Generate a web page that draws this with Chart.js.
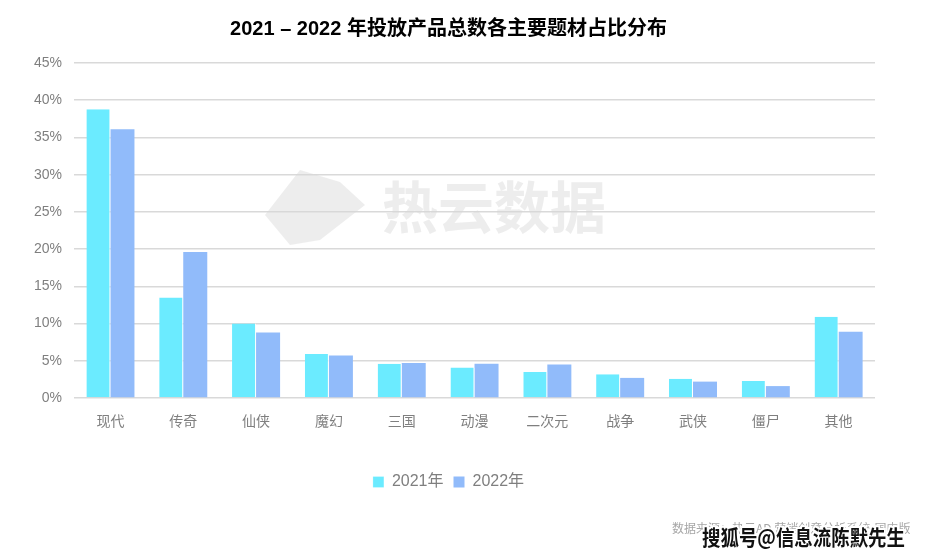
<!DOCTYPE html>
<html>
<head>
<meta charset="utf-8">
<script src="https://cdn.jsdelivr.net/npm/chart.js@4.4.0/dist/chart.umd.min.js"></script>
<style>
  html, body { margin: 0; padding: 0; background: #fff; }
  #wrap { width: 925px; height: 556px; position: relative; }
</style>
</head>
<body>
<div id="wrap"><canvas id="chart"></canvas></div>
<script>
const categories = ["现代", "传奇", "仙侠", "魔幻", "三国", "动漫", "二次元", "战争", "武侠", "僵尸", "其他"];
const share2021 = [38.8, 13.5, 10.0, 5.9, 4.6, 4.1, 3.5, 3.2, 2.6, 2.3, 10.9];
const share2022 = [36.1, 19.6, 8.8, 5.7, 4.7, 4.6, 4.5, 2.7, 2.2, 1.6, 8.9];
const yTicks = [0, 5, 10, 15, 20, 25, 30, 35, 40, 45];

const fontFamily = '"Liberation Sans", "Noto Sans CJK SC", sans-serif';

// watermark + source text
const extras = {
  id: "extras",
  beforeDatasetsDraw(chart) {
    const ctx = chart.ctx;
    ctx.save();
    ctx.fillStyle = "rgba(215,215,215,0.45)";
    ctx.beginPath();
    ctx.moveTo(300, 170);
    ctx.lineTo(340, 182);
    ctx.lineTo(365, 205);
    ctx.lineTo(320, 240);
    ctx.lineTo(290, 245);
    ctx.lineTo(265, 215);
    ctx.closePath();
    ctx.fill();
    ctx.font = 'bold 56px "Noto Sans CJK SC", sans-serif';
    ctx.textBaseline = "middle";
    ctx.fillText("热云数据", 382, 207);
    ctx.restore();
  },
  afterDraw(chart) {
    const ctx = chart.ctx;
    ctx.save();
    ctx.font = '12px "Noto Sans CJK SC", sans-serif';
    ctx.fillStyle = "#a6a6a6";
    ctx.textBaseline = "middle";
    ctx.fillText("数据来源：热云AD 营销创意分析系统-国内版", 672, 528);
    const mark = "搜狐号@信息流陈默先生";
    ctx.font = 'bold 21px "Noto Sans CJK SC", sans-serif';
    const w = ctx.measureText(mark).width;
    ctx.translate(702, 537);
    ctx.scale(203 / w, 1);
    ctx.lineWidth = 4;
    ctx.strokeStyle = "#fff";
    ctx.strokeText(mark, 0, 0);
    ctx.fillStyle = "#111";
    ctx.fillText(mark, 0, 0);
    ctx.restore();
  }
};

new Chart(document.getElementById("chart"), {
  type: "bar",
  data: {
    labels: categories,
    datasets: [
      {
        label: "2021年",
        data: share2021,
        backgroundColor: "#6BEBFF",
        borderColor: "#ffffff",
        borderWidth: { right: 1 },
        categoryPercentage: 0.66,
        barPercentage: 1.0
      },
      {
        label: "2022年",
        data: share2022,
        backgroundColor: "#91BBFA",
        categoryPercentage: 0.66,
        barPercentage: 1.0
      }
    ]
  },
  plugins: [extras],
  options: {
    responsive: true,
    maintainAspectRatio: false,
    animation: false,
    layout: { padding: { left: 22, right: 50, top: 5, bottom: 56 } },
    plugins: {
      title: {
        display: true,
        text: "2021 – 2022 年投放产品总数各主要题材占比分布",
        color: "#000",
        font: { family: fontFamily, size: 20, weight: "bold" },
        padding: { top: 12, bottom: 22 }
      },
      legend: {
        position: "bottom",
        labels: {
          color: "#7f7f7f",
          font: { family: fontFamily, size: 16 },
          boxWidth: 11,
          boxHeight: 11,
          padding: 10
        }
      },
      tooltip: { enabled: false }
    },
    scales: {
      x: {
        grid: { display: false },
        border: { display: false },
        ticks: {
          color: "#7f7f7f",
          font: { family: fontFamily, size: 14 },
          padding: 8
        },
        afterFit(scale) { scale.height = 66; }
      },
      y: {
        min: 0,
        max: 45,
        afterBuildTicks(scale) {
          scale.ticks = yTicks.map(v => ({ value: v }));
        },
        grid: { color: "#d9d9d9", lineWidth: 1.5, drawTicks: false },
        border: { display: false },
        ticks: {
          color: "#7f7f7f",
          font: { family: fontFamily, size: 14 },
          padding: 12,
          callback: v => v + "%"
        }
      }
    }
  }
});
</script>
</body>
</html>
